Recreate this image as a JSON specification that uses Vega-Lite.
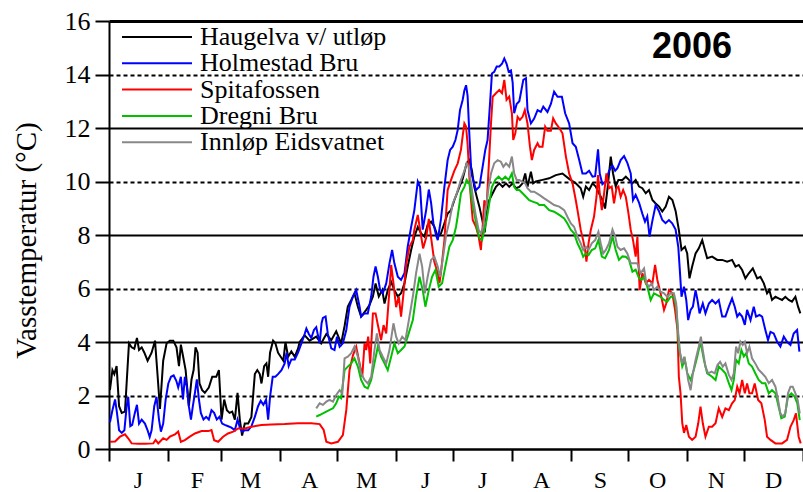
{
  "$schema": "https://vega.github.io/schema/vega-lite/v6.json",
  "width": 694,
  "height": 428,
  "autosize": "none",
  "padding": {"left": 109, "top": 21, "right": 0, "bottom": 43},
  "background": "white",
  "config": {
    "view": {"stroke": null},
    "font": "Liberation Serif"
  },
  "datasets": {
    "haugelva": [
      {"day":0.5,"t":2.2},{"day":1.8,"t":2.95},{"day":2.8,"t":2.8},{"day":4,"t":3.1},{"day":5.3,"t":1.6},{"day":6.7,"t":1.35},{"day":8.4,"t":1.4},{"day":10.5,"t":3.95},{"day":11.9,"t":3.8},{"day":13.3,"t":3.75},{"day":14.7,"t":4.15},{"day":15.8,"t":3.7},{"day":17.2,"t":3.8},{"day":18.6,"t":3.6},{"day":20.3,"t":3.3},{"day":22.4,"t":3.6},{"day":24.2,"t":4.05},{"day":25.6,"t":2.7},{"day":26.8,"t":1.5},{"day":28.5,"t":3.3},{"day":30.3,"t":3.95},{"day":32,"t":4.05},{"day":33.8,"t":4.05},{"day":35.5,"t":3.8},{"day":36.8,"t":3.1},{"day":37.8,"t":3.9},{"day":39,"t":3.45},{"day":40.3,"t":2.95},{"day":42,"t":1.6},{"day":43.4,"t":2.6},{"day":44.5,"t":2.95},{"day":45.5,"t":3.8},{"day":46.6,"t":3.6},{"day":47.6,"t":2.45},{"day":49,"t":2.2},{"day":50.4,"t":2.1},{"day":52.5,"t":2.3},{"day":54.3,"t":2.7},{"day":56.4,"t":2.7},{"day":57.8,"t":2.95},{"day":59.2,"t":1.1},{"day":60.6,"t":1.85},{"day":62,"t":1.45},{"day":63.4,"t":1.35},{"day":64.8,"t":1.4},{"day":66.2,"t":1.1},{"day":67.6,"t":2.1},{"day":68.8,"t":1.1},{"day":70,"t":0.5},{"day":71.4,"t":0.95},{"day":73.2,"t":0.95},{"day":74.9,"t":1.2},{"day":76.7,"t":2.8},{"day":78,"t":2.95},{"day":79.3,"t":2.8},{"day":80.2,"t":2.45},{"day":81.6,"t":3.1},{"day":82.8,"t":3.2},{"day":83.7,"t":2.7},{"day":84.7,"t":3.6},{"day":86.3,"t":4.05},{"day":87.5,"t":3.95},{"day":88.9,"t":3.6},{"day":90.3,"t":3.45},{"day":91.7,"t":3.3},{"day":92.8,"t":4.0},{"day":94.2,"t":3.45},{"day":95.9,"t":3.65},{"day":97.7,"t":3.45},{"day":99.4,"t":3.75},{"day":100.3,"t":4.0},{"day":102.9,"t":4.25},{"day":105.5,"t":4.05},{"day":109,"t":4.2},{"day":111.6,"t":3.95},{"day":114.3,"t":4.3},{"day":116.9,"t":4.07},{"day":119.5,"t":4.4},{"day":122.1,"t":3.95},{"day":123.9,"t":4.6},{"day":125.6,"t":5.32},{"day":127.4,"t":5.57},{"day":129.1,"t":5.82},{"day":130.9,"t":5.32},{"day":132.6,"t":4.95},{"day":135.3,"t":5.2},{"day":137,"t":5.38},{"day":138.8,"t":5.7},{"day":140.2,"t":6.19},{"day":141.9,"t":5.7},{"day":143.7,"t":5.94},{"day":144.9,"t":5.44},{"day":146.6,"t":5.94},{"day":148.4,"t":6.25},{"day":150.1,"t":5.94},{"day":151.9,"t":5.7},{"day":153.6,"t":5.82},{"day":155.4,"t":6.19},{"day":157.1,"t":6.82},{"day":158.9,"t":7.44},{"day":160.6,"t":7.94},{"day":162.4,"t":8.3},{"day":164.2,"t":8.06},{"day":165.9,"t":7.94},{"day":167.6,"t":8.38},{"day":169.4,"t":8.5},{"day":171.1,"t":8.31},{"day":172.9,"t":7.94},{"day":174.6,"t":8.06},{"day":176.4,"t":8.44},{"day":178.1,"t":8.8},{"day":179.9,"t":8.93},{"day":181.6,"t":9.3},{"day":184.3,"t":9.8},{"day":186,"t":10.1},{"day":188.1,"t":10.68},{"day":189.5,"t":10.8},{"day":190.9,"t":10.4},{"day":192.1,"t":9.8},{"day":193.4,"t":9.43},{"day":194.8,"t":9.06},{"day":196.5,"t":8.5},{"day":197.6,"t":8.1},{"day":198.6,"t":8.8},{"day":200,"t":9.31},{"day":201.8,"t":9.56},{"day":203.5,"t":9.8},{"day":205.3,"t":9.93},{"day":207,"t":9.8},{"day":208.8,"t":9.93},{"day":210.5,"t":9.8},{"day":212.3,"t":9.93},{"day":214,"t":9.75},{"day":215.8,"t":9.8},{"day":217.5,"t":9.93},{"day":218.9,"t":10.3},{"day":220.1,"t":9.8},{"day":221.9,"t":10.37},{"day":223.1,"t":9.93},{"day":224.5,"t":10.0},{"day":228,"t":10.06},{"day":231.5,"t":10.12},{"day":235,"t":10.24},{"day":238.5,"t":10.3},{"day":242,"t":10.1},{"day":245.5,"t":9.93},{"day":248.1,"t":9.75},{"day":249.4,"t":9.43},{"day":250.8,"t":9.81},{"day":252.5,"t":9.68},{"day":254.3,"t":9.93},{"day":256,"t":9.81},{"day":257.7,"t":9.56},{"day":259.5,"t":9.31},{"day":260.9,"t":8.99},{"day":262.1,"t":9.68},{"day":263.9,"t":10.93},{"day":265.1,"t":10.3},{"day":266.5,"t":9.81},{"day":267.9,"t":10.06},{"day":270,"t":10.06},{"day":271.8,"t":10.18},{"day":273.5,"t":10.06},{"day":275.3,"t":9.93},{"day":277,"t":10.06},{"day":278.8,"t":9.81},{"day":280.5,"t":9.75},{"day":282.3,"t":9.56},{"day":284,"t":9.68},{"day":285.8,"t":9.31},{"day":287.5,"t":9.18},{"day":289.3,"t":9.06},{"day":291,"t":8.88},{"day":292.8,"t":9.06},{"day":294.5,"t":9.43},{"day":296.3,"t":9.31},{"day":298,"t":8.9},{"day":299.7,"t":8.19},{"day":301.1,"t":7.44},{"day":302.9,"t":7.56},{"day":304.1,"t":7.31},{"day":305.3,"t":6.38},{"day":306.7,"t":6.82},{"day":308.5,"t":7.31},{"day":310.2,"t":7.5},{"day":312,"t":7.81},{"day":313.4,"t":7.44},{"day":314.6,"t":7.13},{"day":317.2,"t":7.19},{"day":319.9,"t":7.07},{"day":322.5,"t":7.07},{"day":325.1,"t":7.0},{"day":327.7,"t":7.07},{"day":329.5,"t":6.82},{"day":331.2,"t":6.88},{"day":333,"t":6.69},{"day":334.7,"t":6.38},{"day":336.5,"t":6.57},{"day":338.6,"t":6.75},{"day":340.9,"t":6.38},{"day":342.6,"t":6.44},{"day":344.4,"t":6.19},{"day":346.1,"t":5.82},{"day":347.3,"t":5.94},{"day":348.7,"t":5.57},{"day":350.5,"t":5.69},{"day":352.2,"t":5.63},{"day":354,"t":5.57},{"day":355.7,"t":5.69},{"day":357.5,"t":5.57},{"day":359.2,"t":5.51},{"day":361,"t":5.69},{"day":362.4,"t":5.32},{"day":363.6,"t":5.07}
    ],
    "holmestad": [
      {"day":0.5,"t":1.0},{"day":1.8,"t":1.45},{"day":3.2,"t":1.85},{"day":4.2,"t":1.35},{"day":5.3,"t":0.7},{"day":6.7,"t":0.6},{"day":8.1,"t":0.7},{"day":9.3,"t":1.6},{"day":10.1,"t":1.95},{"day":11.2,"t":0.85},{"day":12.2,"t":0.9},{"day":13.6,"t":1.35},{"day":14.7,"t":1.65},{"day":15.8,"t":0.95},{"day":17.2,"t":1.1},{"day":18.9,"t":0.95},{"day":20.3,"t":0.7},{"day":21.4,"t":0.45},{"day":22.4,"t":0.7},{"day":23.8,"t":1.6},{"day":25,"t":1.95},{"day":26.3,"t":1.1},{"day":27.3,"t":0.65},{"day":28.5,"t":0.95},{"day":29.8,"t":1.85},{"day":31.2,"t":2.45},{"day":32.6,"t":2.7},{"day":34,"t":2.75},{"day":35.4,"t":2.55},{"day":36.4,"t":2.3},{"day":37.8,"t":2.7},{"day":38.9,"t":1.85},{"day":39.9,"t":2.7},{"day":41,"t":2.3},{"day":42,"t":1.6},{"day":43.1,"t":1.1},{"day":44.1,"t":1.6},{"day":45.2,"t":2.1},{"day":46.2,"t":2.6},{"day":47.3,"t":1.85},{"day":48.3,"t":1.35},{"day":49.7,"t":1.1},{"day":51.1,"t":1.2},{"day":52.5,"t":1.1},{"day":53.9,"t":1.45},{"day":55.3,"t":1.35},{"day":56.7,"t":1.1},{"day":58.1,"t":1.2},{"day":59.5,"t":0.95},{"day":60.9,"t":0.9},{"day":62.7,"t":0.85},{"day":64.4,"t":0.8},{"day":66.2,"t":0.7},{"day":67.6,"t":1.1},{"day":68.8,"t":0.8},{"day":70,"t":0.65},{"day":71.4,"t":0.7},{"day":73.2,"t":0.7},{"day":74.9,"t":0.85},{"day":76.7,"t":1.2},{"day":78.4,"t":1.6},{"day":79.8,"t":1.8},{"day":81.2,"t":1.65},{"day":82.6,"t":1.85},{"day":83.7,"t":1.1},{"day":84.7,"t":1.95},{"day":86.1,"t":2.7},{"day":87.5,"t":2.7},{"day":88.9,"t":2.8},{"day":90.7,"t":2.95},{"day":92.4,"t":3.2},{"day":93.4,"t":3.6},{"day":94.5,"t":3.1},{"day":95.9,"t":3.35},{"day":97.7,"t":3.35},{"day":99.4,"t":3.6},{"day":101.2,"t":3.95},{"day":102.9,"t":4.3},{"day":103.8,"t":4.5},{"day":105.1,"t":4.3},{"day":106.4,"t":4.15},{"day":107.8,"t":4.45},{"day":109,"t":4.55},{"day":110.8,"t":3.95},{"day":111.8,"t":4.7},{"day":112.5,"t":4.9},{"day":113.9,"t":4.95},{"day":115.1,"t":4.3},{"day":116.9,"t":3.76},{"day":118.6,"t":3.7},{"day":119.9,"t":4.2},{"day":121.3,"t":3.82},{"day":123,"t":3.95},{"day":124.8,"t":4.45},{"day":126.5,"t":5.32},{"day":128.3,"t":5.7},{"day":130,"t":5.94},{"day":131.8,"t":5.32},{"day":132.6,"t":4.95},{"day":134.4,"t":5.07},{"day":136.1,"t":5.07},{"day":137.9,"t":5.7},{"day":139.1,"t":6.44},{"day":140.2,"t":6.82},{"day":141.4,"t":6.44},{"day":142.6,"t":5.94},{"day":144,"t":5.82},{"day":145.8,"t":6.19},{"day":147.5,"t":6.94},{"day":148.9,"t":7.44},{"day":150.1,"t":6.94},{"day":151.9,"t":6.44},{"day":153.6,"t":6.32},{"day":155.4,"t":6.57},{"day":157.1,"t":7.56},{"day":158.9,"t":8.3},{"day":160.6,"t":8.93},{"day":162.4,"t":10.0},{"day":163.6,"t":9.8},{"day":165,"t":8.2},{"day":166.8,"t":8.93},{"day":168.2,"t":9.7},{"day":169.4,"t":9.2},{"day":170.6,"t":8.44},{"day":172,"t":8.0},{"day":172.9,"t":7.81},{"day":174.6,"t":8.6},{"day":176.4,"t":9.8},{"day":178.1,"t":10.8},{"day":179.4,"t":11.18},{"day":180.8,"t":11.3},{"day":182.2,"t":11.55},{"day":183.4,"t":11.93},{"day":184.6,"t":12.67},{"day":186,"t":13.05},{"day":186.9,"t":13.4},{"day":187.8,"t":13.6},{"day":188.6,"t":13.2},{"day":189.5,"t":11.8},{"day":190.6,"t":10.3},{"day":191.6,"t":10.05},{"day":193,"t":9.68},{"day":194.8,"t":9.8},{"day":196.5,"t":10.55},{"day":197.9,"t":11.18},{"day":199.1,"t":11.55},{"day":200.4,"t":12.92},{"day":201.4,"t":14.04},{"day":202.6,"t":14.1},{"day":203.9,"t":14.3},{"day":205.3,"t":14.3},{"day":206.7,"t":14.4},{"day":207.9,"t":14.6},{"day":209.1,"t":14.4},{"day":210.2,"t":14.1},{"day":211.4,"t":14.15},{"day":212.3,"t":13.7},{"day":213.1,"t":12.55},{"day":214.4,"t":12.9},{"day":215.8,"t":13.0},{"day":217.9,"t":13.8},{"day":219.3,"t":13.86},{"day":220.1,"t":12.67},{"day":221.9,"t":12.17},{"day":223.6,"t":12.35},{"day":225.4,"t":12.67},{"day":227.1,"t":12.6},{"day":228.4,"t":12.8},{"day":230.6,"t":12.6},{"day":232.4,"t":12.9},{"day":234.1,"t":13.36},{"day":235.9,"t":13.17},{"day":238.2,"t":13.17},{"day":239.9,"t":12.55},{"day":242,"t":12.17},{"day":243.8,"t":11.43},{"day":245.5,"t":11.3},{"day":247.3,"t":10.8},{"day":249,"t":10.3},{"day":250.8,"t":10.3},{"day":252.5,"t":10.4},{"day":254.3,"t":10.18},{"day":255.7,"t":10.2},{"day":257.2,"t":11.2},{"day":258.1,"t":10.3},{"day":259.5,"t":9.9},{"day":261.3,"t":10.0},{"day":263,"t":10.4},{"day":264.8,"t":10.6},{"day":266.2,"t":10.4},{"day":267.4,"t":10.5},{"day":269.1,"t":10.8},{"day":270.9,"t":10.95},{"day":272.6,"t":10.7},{"day":274.4,"t":10.3},{"day":275.6,"t":9.3},{"day":277,"t":9.5},{"day":278.8,"t":9.2},{"day":280.5,"t":8.8},{"day":281.9,"t":8.5},{"day":283.1,"t":8.7},{"day":284.3,"t":7.94},{"day":285.7,"t":8.5},{"day":287.5,"t":9.12},{"day":289.2,"t":8.9},{"day":291,"t":8.56},{"day":292.7,"t":8.44},{"day":294.5,"t":8.56},{"day":296.2,"t":8.44},{"day":298,"t":8.2},{"day":299.4,"t":7.56},{"day":300.1,"t":6.82},{"day":301.1,"t":5.69},{"day":302.4,"t":6.07},{"day":303.6,"t":5.57},{"day":304.6,"t":4.82},{"day":305.9,"t":5.2},{"day":307.1,"t":5.32},{"day":308.5,"t":5.94},{"day":309.5,"t":5.57},{"day":310.6,"t":5.07},{"day":312.3,"t":5.44},{"day":313.7,"t":5.07},{"day":315.5,"t":5.44},{"day":317.2,"t":5.57},{"day":319,"t":5.44},{"day":320.7,"t":5.57},{"day":322.5,"t":4.95},{"day":324.2,"t":4.95},{"day":326,"t":5.32},{"day":327.7,"t":5.63},{"day":329.1,"t":5.32},{"day":330.4,"t":4.95},{"day":331.6,"t":5.07},{"day":333,"t":4.95},{"day":334.4,"t":4.64},{"day":335.6,"t":5.2},{"day":337.4,"t":4.82},{"day":339.1,"t":5.32},{"day":340.3,"t":4.95},{"day":342.1,"t":5.01},{"day":343.5,"t":4.95},{"day":345.2,"t":4.45},{"day":346.6,"t":4.07},{"day":347.9,"t":4.38},{"day":349.6,"t":4.32},{"day":351.4,"t":4.01},{"day":353.1,"t":3.83},{"day":354.9,"t":4.2},{"day":356.6,"t":4.01},{"day":358.4,"t":3.89},{"day":360.1,"t":4.32},{"day":361.9,"t":4.45},{"day":363.1,"t":3.64}
    ],
    "spitafossen": [
      {"day":0.5,"t":0.27},{"day":3.2,"t":0.28},{"day":5.8,"t":0.46},{"day":8.4,"t":0.55},{"day":10.1,"t":0.4},{"day":11.9,"t":0.21},{"day":15.4,"t":0.2},{"day":18.9,"t":0.2},{"day":23.3,"t":0.21},{"day":24.5,"t":0.34},{"day":25.9,"t":0.21},{"day":28.5,"t":0.4},{"day":30.3,"t":0.34},{"day":32,"t":0.46},{"day":34.7,"t":0.55},{"day":36.4,"t":0.65},{"day":37.8,"t":0.27},{"day":39.9,"t":0.33},{"day":42.5,"t":0.46},{"day":45.2,"t":0.58},{"day":48.7,"t":0.67},{"day":52.2,"t":0.67},{"day":53.9,"t":0.71},{"day":55.3,"t":0.33},{"day":57.4,"t":0.27},{"day":60,"t":0.46},{"day":62.6,"t":0.58},{"day":65.3,"t":0.65},{"day":67.9,"t":0.77},{"day":71.4,"t":0.77},{"day":74.9,"t":0.83},{"day":80.2,"t":0.9},{"day":85.4,"t":0.92},{"day":92.4,"t":0.93},{"day":99.4,"t":0.96},{"day":106.4,"t":0.96},{"day":110.8,"t":0.93},{"day":112.9,"t":0.71},{"day":114.3,"t":0.27},{"day":116.9,"t":0.21},{"day":120.4,"t":0.27},{"day":123,"t":0.52},{"day":124.8,"t":1.46},{"day":126.5,"t":2.95},{"day":128.3,"t":3.5},{"day":130,"t":3.83},{"day":131.8,"t":3.2},{"day":133.2,"t":2.7},{"day":134.4,"t":3.95},{"day":135.3,"t":3.7},{"day":136.3,"t":4.2},{"day":137.4,"t":3.2},{"day":138.8,"t":5.07},{"day":140.2,"t":5.07},{"day":141.6,"t":4.57},{"day":143.1,"t":4.07},{"day":144.4,"t":4.63},{"day":145.8,"t":4.32},{"day":147.5,"t":5.94},{"day":148.4,"t":6.88},{"day":149.6,"t":6.2},{"day":151,"t":5.3},{"day":152.4,"t":5.7},{"day":153.6,"t":4.95},{"day":154.9,"t":5.82},{"day":156.3,"t":6.9},{"day":158,"t":7.56},{"day":159.8,"t":7.81},{"day":160.6,"t":8.2},{"day":162.4,"t":8.75},{"day":163.6,"t":8.2},{"day":165.2,"t":7.5},{"day":166.8,"t":7.9},{"day":168.2,"t":8.6},{"day":169.4,"t":7.9},{"day":171.1,"t":7.0},{"day":172.9,"t":6.57},{"day":173.8,"t":6.2},{"day":174.6,"t":6.6},{"day":176.4,"t":7.8},{"day":178.1,"t":9.68},{"day":179.9,"t":10.06},{"day":181.6,"t":10.4},{"day":183.4,"t":10.68},{"day":185.1,"t":11.18},{"day":186,"t":11.7},{"day":186.9,"t":12.17},{"day":187.8,"t":12.05},{"day":188.6,"t":11.4},{"day":189.5,"t":10.2},{"day":190.4,"t":9.3},{"day":191.3,"t":8.56},{"day":193,"t":8.31},{"day":194.4,"t":7.94},{"day":195.6,"t":7.44},{"day":196.5,"t":8.3},{"day":197.4,"t":9.3},{"day":198.6,"t":9.06},{"day":199.7,"t":10.55},{"day":200.9,"t":12.17},{"day":201.8,"t":13.17},{"day":203.5,"t":13.3},{"day":205.3,"t":13.42},{"day":206.7,"t":13.3},{"day":207.9,"t":13.8},{"day":209.1,"t":13.05},{"day":210.5,"t":13.17},{"day":211.9,"t":12.55},{"day":212.6,"t":11.55},{"day":213.7,"t":11.8},{"day":214.9,"t":12.42},{"day":216.1,"t":12.3},{"day":217.5,"t":12.42},{"day":218.7,"t":12.67},{"day":220.1,"t":12.17},{"day":221.4,"t":11.3},{"day":222.4,"t":10.8},{"day":223.6,"t":11.18},{"day":225.4,"t":11.43},{"day":226.3,"t":11.3},{"day":228,"t":11.3},{"day":229.4,"t":12.05},{"day":230.6,"t":11.9},{"day":232.4,"t":11.9},{"day":233.6,"t":12.36},{"day":235,"t":12.17},{"day":236.8,"t":12.0},{"day":238.5,"t":11.8},{"day":240.3,"t":10.93},{"day":242,"t":10.3},{"day":243.8,"t":9.93},{"day":245.5,"t":9.3},{"day":246.4,"t":8.93},{"day":248.1,"t":8.19},{"day":249.4,"t":7.8},{"day":250.4,"t":7.44},{"day":251.1,"t":7.0},{"day":252.2,"t":7.69},{"day":253.4,"t":8.19},{"day":255.1,"t":8.69},{"day":256.4,"t":9.43},{"day":257.2,"t":10.24},{"day":258.1,"t":9.56},{"day":259.2,"t":8.93},{"day":260.4,"t":9.56},{"day":261.6,"t":10.3},{"day":263,"t":9.75},{"day":264.4,"t":9.81},{"day":265.6,"t":9.18},{"day":266.9,"t":9.75},{"day":267.9,"t":9.81},{"day":269.1,"t":9.43},{"day":270.4,"t":9.68},{"day":271.8,"t":9.43},{"day":273.2,"t":8.81},{"day":274.4,"t":8.19},{"day":275.6,"t":7.81},{"day":277,"t":7.19},{"day":277.9,"t":7.94},{"day":279.1,"t":5.94},{"day":280.5,"t":6.57},{"day":282.3,"t":6.2},{"day":284,"t":6.32},{"day":285.8,"t":6.2},{"day":287.2,"t":6.88},{"day":288.4,"t":6.32},{"day":290.1,"t":5.82},{"day":291.9,"t":5.2},{"day":293.1,"t":5.45},{"day":294.5,"t":5.94},{"day":296.3,"t":5.82},{"day":297.7,"t":5.2},{"day":299,"t":4.45},{"day":299.7,"t":2.7},{"day":300.6,"t":2.08},{"day":301.5,"t":0.97},{"day":302.4,"t":0.6},{"day":303.6,"t":0.9},{"day":305,"t":0.46},{"day":306.7,"t":0.34},{"day":308.5,"t":0.46},{"day":309.9,"t":0.96},{"day":311.1,"t":1.58},{"day":312.3,"t":0.96},{"day":313.7,"t":0.46},{"day":315.5,"t":0.83},{"day":317.2,"t":0.83},{"day":319,"t":0.96},{"day":320.7,"t":1.52},{"day":322.5,"t":1.2},{"day":324.2,"t":1.52},{"day":326,"t":1.45},{"day":327.7,"t":1.71},{"day":329.1,"t":1.83},{"day":330.4,"t":2.33},{"day":331.6,"t":2.08},{"day":333,"t":2.58},{"day":334.4,"t":2.08},{"day":335.6,"t":2.45},{"day":336.8,"t":2.08},{"day":338.2,"t":2.08},{"day":339.6,"t":2.45},{"day":341.4,"t":1.83},{"day":343.1,"t":1.71},{"day":344.9,"t":1.08},{"day":346.1,"t":0.46},{"day":347.9,"t":0.34},{"day":350.5,"t":0.21},{"day":354,"t":0.21},{"day":356.6,"t":0.34},{"day":358.4,"t":0.83},{"day":360.1,"t":1.08},{"day":361.3,"t":1.33},{"day":362.7,"t":0.46},{"day":363.8,"t":0.21}
    ],
    "dregni": [
      {"day":109,"t":1.21},{"day":110.8,"t":1.27},{"day":112.5,"t":1.33},{"day":114.3,"t":1.4},{"day":116,"t":1.46},{"day":117.8,"t":1.52},{"day":119.5,"t":1.71},{"day":120.9,"t":1.96},{"day":122.1,"t":1.9},{"day":123.9,"t":2.95},{"day":125.6,"t":3.08},{"day":127.4,"t":3.2},{"day":129.1,"t":3.39},{"day":130.9,"t":3.08},{"day":132.6,"t":2.58},{"day":134.4,"t":2.33},{"day":136.1,"t":2.27},{"day":137.9,"t":2.58},{"day":139.6,"t":3.2},{"day":141.4,"t":3.83},{"day":143.1,"t":3.45},{"day":144.9,"t":3.2},{"day":146.6,"t":2.95},{"day":148.4,"t":3.45},{"day":150.1,"t":3.95},{"day":151.9,"t":3.58},{"day":153.6,"t":3.7},{"day":155.4,"t":3.83},{"day":157.1,"t":4.2},{"day":159.8,"t":4.82},{"day":161.5,"t":5.7},{"day":163.3,"t":6.44},{"day":165,"t":5.94},{"day":166.4,"t":5.32},{"day":168.2,"t":5.94},{"day":169.9,"t":6.44},{"day":171.7,"t":6.7},{"day":173.4,"t":6.07},{"day":175.2,"t":6.2},{"day":176.9,"t":6.82},{"day":179,"t":7.56},{"day":180.8,"t":7.81},{"day":182.5,"t":8.3},{"day":183.4,"t":8.7},{"day":185.1,"t":9.56},{"day":186.9,"t":9.8},{"day":188.1,"t":10.06},{"day":189.5,"t":9.93},{"day":190.9,"t":9.3},{"day":192.1,"t":8.81},{"day":193.4,"t":8.31},{"day":194.8,"t":7.88},{"day":196.2,"t":7.81},{"day":197.4,"t":8.19},{"day":198.6,"t":8.56},{"day":200,"t":9.18},{"day":201.4,"t":9.8},{"day":203.2,"t":10.06},{"day":204.9,"t":10.18},{"day":206.7,"t":10.06},{"day":208.4,"t":10.18},{"day":210.2,"t":10.06},{"day":211.9,"t":10.3},{"day":213.1,"t":9.8},{"day":214.4,"t":9.68},{"day":215.8,"t":9.68},{"day":217.5,"t":9.56},{"day":219.3,"t":9.43},{"day":221,"t":9.3},{"day":222.8,"t":9.25},{"day":225.4,"t":9.18},{"day":226.3,"t":9.12},{"day":228.9,"t":9.12},{"day":231.5,"t":8.93},{"day":234.1,"t":8.87},{"day":236.8,"t":8.75},{"day":239.4,"t":8.62},{"day":241.1,"t":8.43},{"day":242.9,"t":8.19},{"day":244.6,"t":8.06},{"day":246.4,"t":7.69},{"day":248.1,"t":7.44},{"day":249.4,"t":7.19},{"day":250.8,"t":7.31},{"day":252.2,"t":7.25},{"day":253.9,"t":7.44},{"day":255.7,"t":7.5},{"day":257.4,"t":7.81},{"day":259.2,"t":7.19},{"day":260.9,"t":7.13},{"day":263,"t":7.44},{"day":264.8,"t":7.94},{"day":266.5,"t":7.44},{"day":268.2,"t":7.07},{"day":270,"t":7.2},{"day":271.8,"t":7.19},{"day":273.5,"t":7.07},{"day":275.3,"t":6.63},{"day":277,"t":6.7},{"day":278.7,"t":6.4},{"day":280.1,"t":6.32},{"day":281.4,"t":6.44},{"day":283.1,"t":6.07},{"day":284.9,"t":5.57},{"day":286.6,"t":5.82},{"day":288.4,"t":5.75},{"day":290.1,"t":5.69},{"day":291.9,"t":5.57},{"day":293.6,"t":5.51},{"day":295.4,"t":5.69},{"day":297.1,"t":5.69},{"day":298.3,"t":5.32},{"day":299.7,"t":3.83},{"day":301.5,"t":3.08},{"day":302.9,"t":3.33},{"day":304.1,"t":2.83},{"day":305.9,"t":2.58},{"day":307.6,"t":2.96},{"day":309.4,"t":3.46},{"day":311.1,"t":4.01},{"day":312.9,"t":3.33},{"day":314.6,"t":2.83},{"day":317.2,"t":2.7},{"day":319,"t":2.58},{"day":320.7,"t":3.08},{"day":322.5,"t":2.96},{"day":324.2,"t":2.83},{"day":326,"t":2.46},{"day":327.4,"t":2.2},{"day":328.6,"t":2.58},{"day":329.8,"t":3.33},{"day":331.2,"t":3.2},{"day":332.6,"t":3.7},{"day":333.9,"t":3.46},{"day":335.1,"t":3.58},{"day":336.5,"t":3.2},{"day":338.2,"t":3.08},{"day":339.9,"t":2.83},{"day":341.7,"t":2.58},{"day":343.5,"t":2.46},{"day":345.2,"t":2.46},{"day":347,"t":2.08},{"day":348.7,"t":2.2},{"day":350.5,"t":2.08},{"day":352.2,"t":1.58},{"day":353.6,"t":1.15},{"day":355.4,"t":1.21},{"day":357.1,"t":1.96},{"day":358.9,"t":2.08},{"day":360.6,"t":1.96},{"day":362,"t":1.71},{"day":363.3,"t":1.08}
    ],
    "innlop": [
      {"day":109,"t":1.52},{"day":110.8,"t":1.71},{"day":112.5,"t":1.65},{"day":114.3,"t":1.77},{"day":116,"t":1.84},{"day":117.8,"t":1.77},{"day":119.5,"t":2.02},{"day":121.3,"t":2.2},{"day":122.7,"t":2.08},{"day":123.9,"t":3.39},{"day":125.6,"t":3.45},{"day":127.4,"t":3.58},{"day":129.1,"t":3.83},{"day":130.9,"t":3.45},{"day":132.6,"t":2.83},{"day":134.4,"t":2.58},{"day":136.1,"t":2.45},{"day":137.9,"t":2.7},{"day":139.6,"t":3.7},{"day":140.9,"t":4.32},{"day":142.3,"t":3.7},{"day":144,"t":3.45},{"day":145.8,"t":3.2},{"day":147.5,"t":3.7},{"day":149.6,"t":4.7},{"day":151,"t":4.2},{"day":152.4,"t":3.95},{"day":154.2,"t":4.2},{"day":155.9,"t":4.07},{"day":157.7,"t":4.82},{"day":159.8,"t":5.7},{"day":161.5,"t":6.57},{"day":163.3,"t":7.3},{"day":164.7,"t":6.82},{"day":166.1,"t":5.82},{"day":167.6,"t":6.44},{"day":169.4,"t":7.07},{"day":171.1,"t":7.19},{"day":172.9,"t":6.82},{"day":174.1,"t":6.44},{"day":175.5,"t":7.07},{"day":177.3,"t":8.0},{"day":179,"t":8.5},{"day":180.8,"t":9.18},{"day":182.9,"t":9.55},{"day":185.1,"t":10.06},{"day":186.9,"t":10.4},{"day":188.1,"t":10.68},{"day":189.2,"t":10.55},{"day":190.4,"t":9.93},{"day":191.6,"t":9.3},{"day":193,"t":8.69},{"day":194.4,"t":8.19},{"day":195.6,"t":8.06},{"day":196.9,"t":8.31},{"day":198.3,"t":9.06},{"day":199.7,"t":9.8},{"day":200.9,"t":10.3},{"day":202.6,"t":10.68},{"day":204.4,"t":10.8},{"day":206.1,"t":10.74},{"day":207.4,"t":10.55},{"day":208.8,"t":10.68},{"day":210.5,"t":10.55},{"day":211.9,"t":10.93},{"day":213.1,"t":10.3},{"day":214.4,"t":10.06},{"day":215.8,"t":10.06},{"day":217.5,"t":9.99},{"day":218.9,"t":9.93},{"day":220.1,"t":9.75},{"day":221.9,"t":9.62},{"day":223.6,"t":9.62},{"day":226.3,"t":9.5},{"day":228.9,"t":9.37},{"day":231.5,"t":9.25},{"day":234.1,"t":9.12},{"day":236.8,"t":9.06},{"day":239.4,"t":8.93},{"day":241.1,"t":8.68},{"day":242.9,"t":8.43},{"day":244.6,"t":8.31},{"day":246.4,"t":7.94},{"day":248.1,"t":7.69},{"day":249.4,"t":7.44},{"day":250.8,"t":7.56},{"day":252.2,"t":7.44},{"day":253.9,"t":7.69},{"day":255.7,"t":7.81},{"day":257.4,"t":8.12},{"day":258.6,"t":7.69},{"day":259.9,"t":7.31},{"day":261.3,"t":7.44},{"day":263,"t":7.69},{"day":264.8,"t":8.2},{"day":266.2,"t":7.94},{"day":267.4,"t":7.56},{"day":269.1,"t":7.44},{"day":270.9,"t":7.5},{"day":272.6,"t":7.31},{"day":274.4,"t":6.94},{"day":276.1,"t":6.94},{"day":277.9,"t":6.94},{"day":279.6,"t":6.57},{"day":281.4,"t":6.75},{"day":282.6,"t":6.2},{"day":284,"t":6.07},{"day":285.4,"t":6.19},{"day":286.6,"t":5.94},{"day":288.4,"t":6.07},{"day":290.1,"t":5.88},{"day":291.9,"t":5.82},{"day":293.6,"t":5.69},{"day":295.4,"t":5.82},{"day":297.1,"t":5.82},{"day":298.3,"t":5.44},{"day":299.4,"t":4.32},{"day":300.4,"t":3.58},{"day":301.5,"t":3.2},{"day":302.5,"t":3.45},{"day":303.6,"t":3.08},{"day":304.6,"t":2.58},{"day":305.9,"t":2.2},{"day":307.1,"t":2.83},{"day":308.5,"t":3.33},{"day":310.2,"t":3.83},{"day":311.3,"t":4.2},{"day":312.3,"t":3.7},{"day":313.7,"t":3.08},{"day":315.1,"t":2.83},{"day":316.9,"t":2.89},{"day":318.6,"t":2.83},{"day":320,"t":3.14},{"day":321.4,"t":3.26},{"day":322.8,"t":3.08},{"day":324.2,"t":3.2},{"day":326,"t":2.77},{"day":327.4,"t":2.58},{"day":328.6,"t":2.83},{"day":329.8,"t":3.83},{"day":330.9,"t":3.58},{"day":332.1,"t":4.01},{"day":333.3,"t":3.89},{"day":334.4,"t":4.01},{"day":335.6,"t":3.58},{"day":336.8,"t":3.83},{"day":338.2,"t":3.39},{"day":339.9,"t":3.2},{"day":341.7,"t":2.96},{"day":343.5,"t":2.83},{"day":345.2,"t":2.7},{"day":347,"t":2.46},{"day":348.7,"t":2.58},{"day":350.5,"t":2.33},{"day":351.9,"t":1.83},{"day":353.1,"t":1.33},{"day":354.3,"t":1.21},{"day":355.7,"t":1.33},{"day":357.1,"t":2.08},{"day":358.4,"t":2.33},{"day":359.6,"t":2.33},{"day":361,"t":2.08},{"day":362.2,"t":1.83},{"day":363.3,"t":1.33}
    ],
    "year": [
      {"day":306.6,"t":14.62,"label":"2006"}
    ]
  },
  "encoding": {
    "x": {
      "field": "day",
      "type": "quantitative",
      "scale": {"domain": [0, 365], "nice": false, "zero": false},
      "axis": {
        "title": null,
        "values": [0, 31, 59, 90, 120, 151, 181, 212, 243, 273, 304, 334, 365],
        "labelExpr": "['J','F','M','A','M','J','J','A','S','O','N','D',''][indexof([0,31,59,90,120,151,181,212,243,273,304,334,365], datum.value)]",
        "labelOffset": 29,
        "labelFlush": false,
        "labelOverlap": false,
        "labelFont": "Liberation Serif",
        "labelFontSize": 24,
        "labelColor": "black",
        "labelPadding": 7,
        "labelBaseline": "top",
        "tickSize": 12,
        "tickWidth": 2,
        "tickColor": "black",
        "domainColor": "black",
        "domainWidth": 2,
        "grid": false
      }
    },
    "y": {
      "field": "t",
      "type": "quantitative",
      "scale": {"domain": [0, 16], "nice": false},
      "axis": {
        "title": "Vasstemperatur (°C)",
        "titleFont": "Liberation Serif",
        "titleFontSize": 29,
        "titleFontWeight": "normal",
        "titleColor": "black",
        "titleAngle": 270,
        "titleAlign": "center",
        "titleBaseline": "alphabetic",
        "titleX": -74,
        "titleY": 219,
        "values": [0, 2, 4, 6, 8, 10, 12, 14, 16],
        "labelFont": "Liberation Serif",
        "labelFontSize": 26,
        "labelColor": "black",
        "labelPadding": 5,
        "tickSize": 14,
        "tickWidth": 2,
        "tickColor": "black",
        "domainColor": "black",
        "domainWidth": 2,
        "grid": true,
        "gridColor": "black",
        "gridOpacity": 1,
        "gridDash": {"condition": {"test": "datum.value % 4 === 0", "value": []}, "value": [4, 3]},
        "gridWidth": {"condition": {"test": "datum.value === 16", "value": 3}, "value": 2}
      }
    }
  },
  "layer": [
    {
      "data": {"name": "haugelva"},
      "mark": {"type": "line", "strokeWidth": 2},
      "encoding": {
        "color": {
          "datum": "Haugelva v/ utløp",
          "type": "nominal",
          "scale": {
            "domain": ["Haugelva v/ utløp", "Holmestad Bru", "Spitafossen", "Dregni Bru", "Innløp Eidsvatnet"],
            "range": ["#000000", "#0000ff", "#ff0000", "#00c000", "#888888"]
          },
          "legend": {
            "title": null,
            "orient": "none",
            "legendX": 35,
            "legendY": 3,
            "padding": 0,
            "symbolType": "M-5,0H5",
            "symbolSize": 196,
            "symbolStrokeWidth": 2,
            "labelOffset": 30,
            "labelFont": "Liberation Serif",
            "labelFontSize": 26,
            "labelColor": "black",
            "labelLimit": 400,
            "rowPadding": 0.3,
            "fillColor": null,
            "strokeColor": null
          }
        }
      }
    },
    {
      "data": {"name": "holmestad"},
      "mark": {"type": "line", "strokeWidth": 2},
      "encoding": {"color": {"datum": "Holmestad Bru", "type": "nominal"}}
    },
    {
      "data": {"name": "spitafossen"},
      "mark": {"type": "line", "strokeWidth": 2},
      "encoding": {"color": {"datum": "Spitafossen", "type": "nominal"}}
    },
    {
      "data": {"name": "dregni"},
      "mark": {"type": "line", "strokeWidth": 2},
      "encoding": {"color": {"datum": "Dregni Bru", "type": "nominal"}}
    },
    {
      "data": {"name": "innlop"},
      "mark": {"type": "line", "strokeWidth": 2},
      "encoding": {"color": {"datum": "Innløp Eidsvatnet", "type": "nominal"}}
    },
    {
      "data": {"name": "year"},
      "mark": {"type": "text", "font": "Liberation Sans", "fontSize": 36, "fontWeight": "bold", "color": "black", "align": "center", "baseline": "alphabetic"},
      "encoding": {"text": {"field": "label"}}
    }
  ]
}
